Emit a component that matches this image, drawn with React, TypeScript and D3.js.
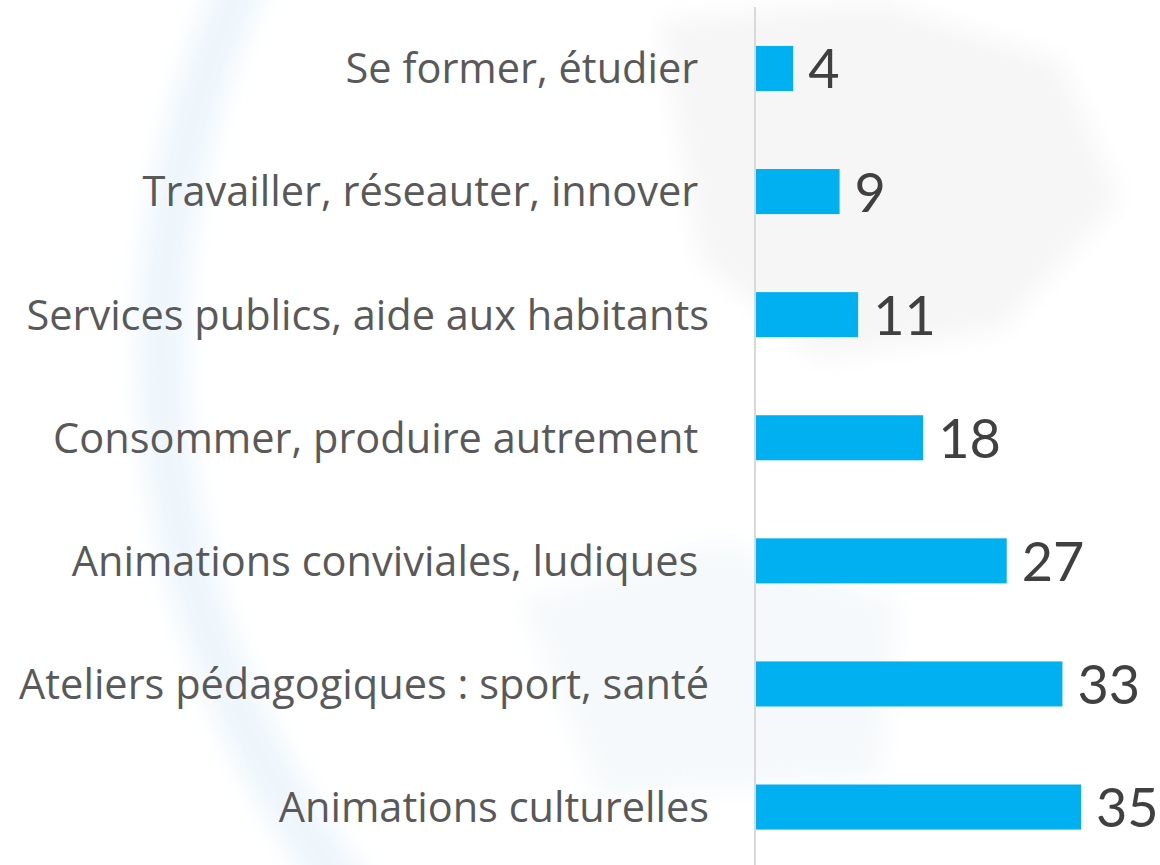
import React, { useEffect, useRef } from 'react';
import * as d3 from 'd3';

// categories, top to bottom (trailing spaces kept as in the source)
const categories = [
  'Se former, étudier ',
  'Travailler, réseauter, innover ',
  'Services publics, aide aux habitants',
  'Consommer, produire autrement ',
  'Animations conviviales, ludiques ',
  'Ateliers pédagogiques : sport, santé',
  'Animations culturelles',
];
const values = [4, 9, 11, 18, 27, 33, 35];

const App = () => {
  const svgRef = useRef<SVGSVGElement>(null);

  useEffect(() => {
    if (!svgRef.current) return;
    const width = 1160;
    const height = 865;
    const axisX = 755;

    const svg = d3.select(svgRef.current);
    svg.selectAll('*').remove();
    svg.attr('width', width).attr('height', height);

    // faint globe-like watermark in the background
    const defs = svg.append('defs');
    defs.append('filter').attr('id', 'blur')
      .attr('x', '-20%').attr('y', '-20%').attr('width', '140%').attr('height', '140%')
      .append('feGaussianBlur').attr('stdDeviation', 12);
    const bg = svg.append('g').attr('filter', 'url(#blur)');
    bg.append('circle')
      .attr('cx', 1042).attr('cy', 350).attr('r', 880)
      .attr('fill', 'none').attr('stroke', '#eef6fc').attr('stroke-width', 50);
    bg.append('path')
      .attr('d', 'M660,20 L880,0 L1060,60 L1120,200 L1000,330 L820,360 L700,260 Z')
      .attr('fill', '#f6f6f6');
    bg.append('path')
      .attr('d', 'M520,600 L720,540 L900,600 L880,780 L600,800 Z')
      .attr('fill', '#f6f9fb');

    const y = d3.scaleBand()
      .domain(categories)
      .range([9, 866.5])
      .paddingInner(0.634)
      .paddingOuter(0.3);

    const x = d3.scaleLinear()
      .domain([0, 35])
      .range([axisX + 1, 1081]);

    const chart = svg.append('g');

    chart.selectAll('.bar')
      .data(values)
      .enter()
      .append('rect')
      .attr('class', 'bar')
      .attr('x', x(0))
      .attr('y', (d, i) => y(categories[i]) as number)
      .attr('width', d => x(d) - x(0))
      .attr('height', y.bandwidth())
      .attr('fill', '#00b0f0');

    // category axis: line only, labels on the left
    chart.append('line')
      .attr('x1', axisX).attr('x2', axisX)
      .attr('y1', 7).attr('y2', height)
      .attr('stroke', '#d9d9d9').attr('stroke-width', 2);

    chart.selectAll('.cat')
      .data(categories)
      .enter()
      .append('text')
      .attr('class', 'cat')
      .attr('x', 709)
      .attr('y', d => (y(d) as number) + y.bandwidth() / 2)
      .attr('dy', '0.36em')
      .attr('text-anchor', 'end')
      .style('white-space', 'pre')
      .style('font-family', '"Open Sans", sans-serif')
      .style('font-size', '41.5px')
      .attr('fill', '#595959')
      .text(d => d);

    chart.selectAll('.val')
      .data(values)
      .enter()
      .append('text')
      .attr('class', 'val')
      .attr('x', d => x(d) + 15)
      .attr('y', (d, i) => (y(categories[i]) as number) + y.bandwidth() / 2)
      .attr('dy', '0.37em')
      .style('font-family', 'Lato, sans-serif')
      .style('font-size', '54px')
      .attr('fill', '#404040')
      .text(d => d);
  }, []);

  return (
    <div style={{ position: 'absolute', left: 0, top: 0 }}>
      <svg ref={svgRef} style={{ display: 'block' }}></svg>
    </div>
  );
};

export default App;
